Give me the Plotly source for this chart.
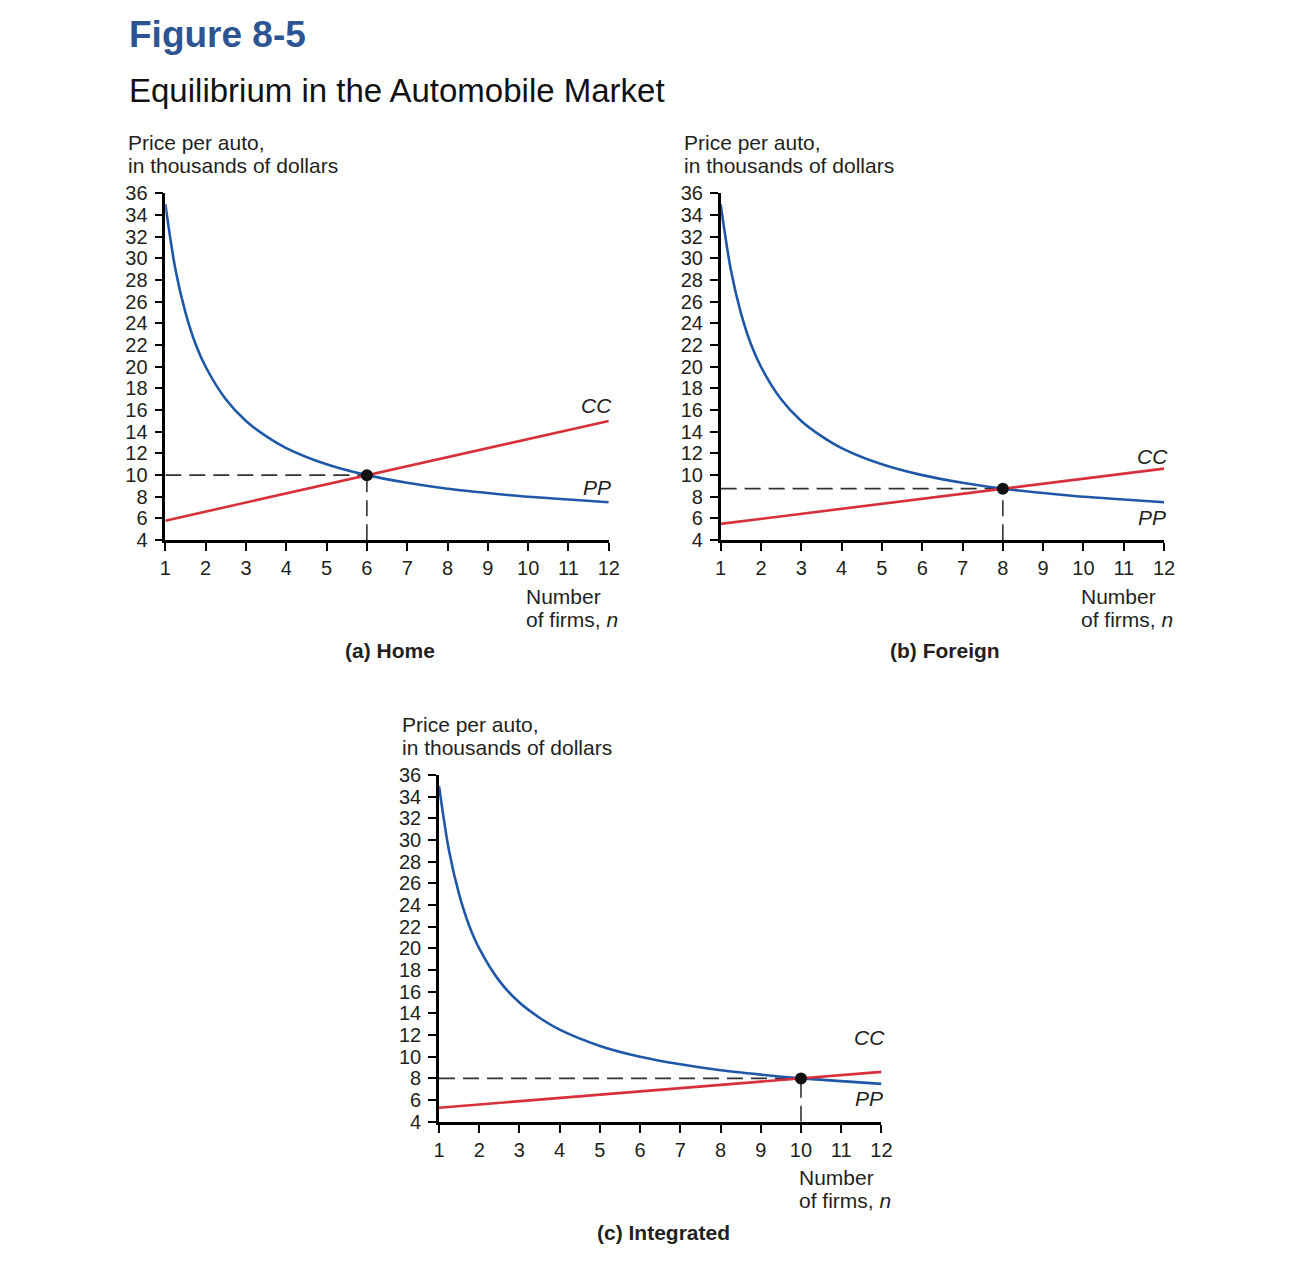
import plotly.graph_objects as go

W, H = 1288, 1246

# ---- data ----
pp_n = [1, 1.25, 1.5, 1.75, 2, 2.5, 3, 3.5, 4, 5, 6, 7, 8, 9, 10, 11, 12]
pp_price = [35, 29, 25, 22.1, 20, 17, 15, 13.6, 12.5, 11, 10, 9.3, 8.75, 8.35, 8.0, 7.75, 7.5]

cc_n = [1, 12]
cc_home = [5.8, 15.0]
cc_foreign = [5.5, 10.6]
cc_integrated = [5.3, 8.6]

eq_n = [6, 8, 10]
eq_price = [10, 8.75, 8]

panel_titles = ["(a) Home", "(b) Foreign", "(c) Integrated"]
x_ticks = list(range(1, 13))
y_ticks = list(range(4, 37, 2))
y_title_lines = ["Price per auto,", "in thousands of dollars"]
x_title_lines = ["Number", "of firms, <i>n</i>"]

BLUE = "#1f58a8"
RED = "#d7303b"
FONT = "Liberation Sans, Arial, sans-serif"
TXT = "#231f20"
FS = 21

# mapping from target picture pixels to figure pixels (measured)
SX, OX = 0.988, 12.5
SY, OY = 0.983, 18.5


def fx(px):
    return ((px - OX) / SX) / W


def fy(py):
    return 1 - ((py - OY) / SY) / H


# panel pixel boxes in the target picture (left, right, top, bottom)
boxes = [(164, 608, 193, 540), (720, 1164, 193, 540), (438, 881, 775, 1122)]
cc_sets = [cc_home, cc_foreign, cc_integrated]
cc_lbl = [16.45, 11.75, 11.75]
pp_lbl = [8.9, 6.12, 6.12]

fig = go.Figure()
layout = dict(
    width=W, height=H, margin=dict(l=0, r=0, t=0, b=0),
    paper_bgcolor="white", plot_bgcolor="white", showlegend=False,
    font=dict(family=FONT, color=TXT, size=FS),
)
annotations = []

for i, (l, r, t, b) in enumerate(boxes):
    k = "" if i == 0 else str(i + 1)
    xa, ya = "x" + k, "y" + k
    layout["xaxis" + k] = dict(
        domain=[fx(l), fx(r)], range=[1, 12], anchor=ya,
        tickvals=x_ticks, ticks="outside", ticklen=8, tickwidth=1.5, tickcolor="black",
        showline=True, linecolor="black", linewidth=2.5, showgrid=False, zeroline=False,
        tickfont=dict(size=20, color=TXT), fixedrange=True,
    )
    layout["yaxis" + k] = dict(
        domain=[fy(b), fy(t)], range=[4, 36], anchor=xa,
        tickvals=y_ticks, ticks="outside", ticklen=8, tickwidth=1.5, tickcolor="black",
        showline=True, linecolor="black", linewidth=2.5, showgrid=False, zeroline=False,
        tickfont=dict(size=20, color=TXT), fixedrange=True, ticklabelstandoff=3,
    )
    n_e, p_e = eq_n[i], eq_price[i]
    fig.add_trace(go.Scatter(x=[1, n_e], y=[p_e, p_e], mode="lines", xaxis=xa, yaxis=ya,
                             line=dict(color="#333333", width=1.6, dash="16px,8px"), hoverinfo="skip"))
    fig.add_trace(go.Scatter(x=[n_e, n_e], y=[4, p_e], mode="lines", xaxis=xa, yaxis=ya,
                             line=dict(color="#333333", width=1.6, dash="16px,8px"), hoverinfo="skip"))
    fig.add_trace(go.Scatter(x=pp_n, y=pp_price, mode="lines", xaxis=xa, yaxis=ya,
                             line=dict(color=BLUE, width=2.6, shape="spline", smoothing=0.8), name="PP"))
    fig.add_trace(go.Scatter(x=cc_n, y=cc_sets[i], mode="lines", xaxis=xa, yaxis=ya,
                             line=dict(color=RED, width=2.6), name="CC"))
    fig.add_trace(go.Scatter(x=[n_e], y=[p_e], mode="markers", xaxis=xa, yaxis=ya, cliponaxis=False,
                             marker=dict(color="#111111", size=12), name="eq"))
    annotations.append(dict(x=11.7, y=cc_lbl[i], xref=xa, yref=ya, text="<i>CC</i>", showarrow=False,
                            font=dict(size=FS, color=TXT)))
    annotations.append(dict(x=11.7, y=pp_lbl[i], xref=xa, yref=ya, text="<i>PP</i>", showarrow=False,
                            font=dict(size=FS, color=TXT)))
    for j, line in enumerate(y_title_lines):
        annotations.append(dict(x=fx(l - 39), y=fy(t - 51 + 23 * j), xref="paper", yref="paper",
                                xanchor="left", yanchor="middle", showarrow=False,
                                text=line, font=dict(size=FS, color=TXT)))
    for j, line in enumerate(x_title_lines):
        annotations.append(dict(x=fx(r - 85), y=fy(b + 56 + 23 * j), xref="paper", yref="paper",
                                xanchor="left", yanchor="middle", showarrow=False,
                                text=line, font=dict(size=FS, color=TXT)))
    annotations.append(dict(x=fx((l + r) / 2 + 3), y=fy(b + 110.5), xref="paper", yref="paper",
                            xanchor="center", yanchor="middle", showarrow=False,
                            text="<b>" + panel_titles[i] + "</b>", font=dict(size=FS, color=TXT)))

annotations.append(dict(x=fx(126), y=fy(34), xref="paper", yref="paper", xanchor="left", yanchor="middle",
                        showarrow=False, text="<b>Figure 8-5</b>", font=dict(size=37, color="#2e5593")))
annotations.append(dict(x=fx(126), y=fy(90), xref="paper", yref="paper", xanchor="left", yanchor="middle",
                        showarrow=False, text="Equilibrium in the Automobile Market",
                        font=dict(size=33, color="#111111")))

layout["annotations"] = annotations
fig.update_layout(**layout)
fig.write_html("out.html")
